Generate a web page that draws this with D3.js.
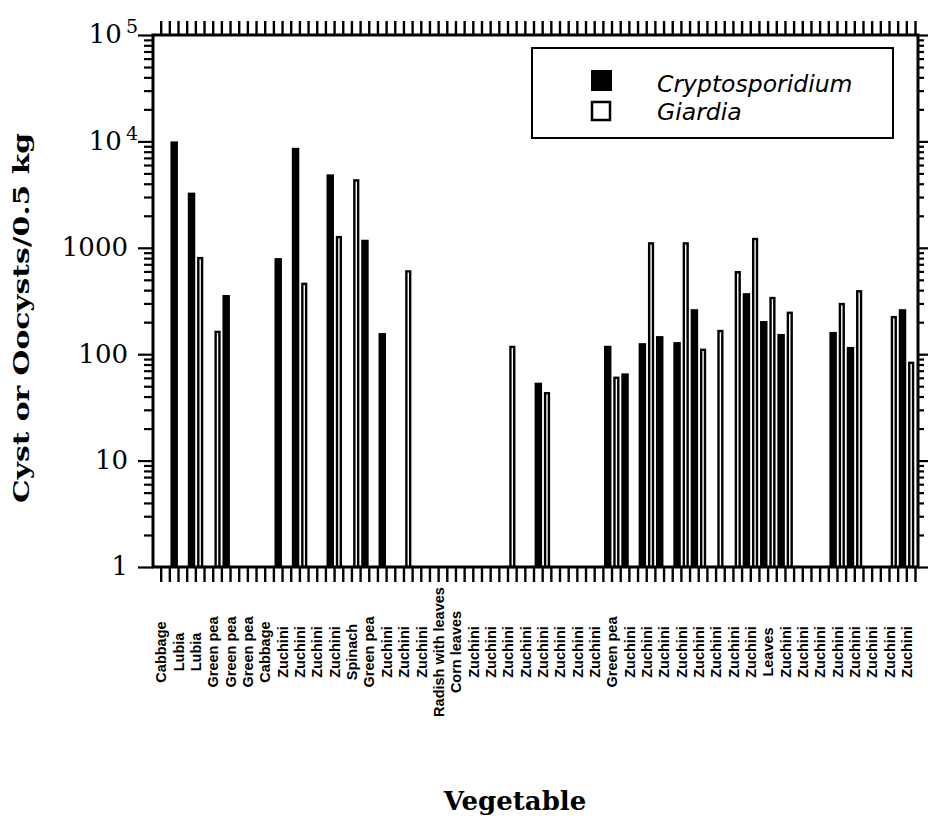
<!DOCTYPE html>
<html>
<head>
<meta charset="utf-8">
<script src="https://cdn.jsdelivr.net/npm/d3@7"></script>
<style>
  body { margin: 0; background: #fff; }
  svg { display: block; }
</style>
</head>
<body>
<div class="canvas"></div>
<script>
// one entry per sample (names repeat, so bars are keyed by index)
const vegetables = [
  'Cabbage', 'Lubia', 'Lubia', 'Green pea', 'Green pea', 'Green pea', 'Cabbage',
  'Zuchini', 'Zuchini', 'Zuchini', 'Zuchini', 'Spinach', 'Green pea',
  'Zuchini', 'Zuchini', 'Zuchini', 'Radish with leaves', 'Corn leaves',
  'Zuchini', 'Zuchini', 'Zuchini', 'Zuchini', 'Zuchini', 'Zuchini', 'Zuchini', 'Zuchini',
  'Green pea',
  'Zuchini', 'Zuchini', 'Zuchini', 'Zuchini', 'Zuchini', 'Zuchini', 'Zuchini', 'Zuchini',
  'Leaves',
  'Zuchini', 'Zuchini', 'Zuchini', 'Zuchini', 'Zuchini', 'Zuchini', 'Zuchini', 'Zuchini'
];

const seriesNames = ['Cryptosporidium', 'Giardia'];

// cysts or oocysts per 0.5 kg, null = nothing detected
const cryptoValues = [
  null, 10000, 3300, null, 360, null, null, 800, 8700, null,
  4900, null, 1190, 158, null, null, null, null, null, null,
  null, null, 54, null, null, null, 120, 66, 127, 148,
  130, 265, null, null, 375, 205, 155, null, null, 162,
  117, null, null, 265
];
const giardiaValues = [
  null, null, 800, 162, null, null, null, null, 458, null,
  1260, 4300, null, null, 600, null, null, null, null, null,
  117, null, 43, null, null, null, 60, null, 1100, null,
  1100, 110, 165, 590, 1210, 337, 245, null, null, 296,
  390, null, 223, 83
];

const majorTicks = [1, 10, 100, 1000, 10000, 100000];

// chart box
const dims = { width: 933, height: 816 };
const plot = { left: 153, right: 918, top: 35, bottom: 567 };

const svg = d3.select('.canvas')
  .append('svg')
  .attr('width', dims.width)
  .attr('height', dims.height);

// scales
const x = d3.scaleBand()
  .domain(d3.range(vegetables.length))
  .range([152.5, 915.5]);

const xs = d3.scaleBand()
  .domain(seriesNames)
  .range([0, x.bandwidth()]);

const y = d3.scaleLog()
  .domain([1, 100000])
  .range([plot.bottom, plot.top]);

const minorTicks = y.ticks().filter(t => !majorTicks.includes(t));

// bars
const bars = [];
vegetables.forEach((v, i) => {
  if (cryptoValues[i] != null) bars.push({ i, key: 'Cryptosporidium', value: cryptoValues[i] });
  if (giardiaValues[i] != null) bars.push({ i, key: 'Giardia', value: giardiaValues[i] });
});

// giardia bars are open (outlined) and a bit narrower
const giardiaWidth = 3.8;

svg.append('g')
  .selectAll('rect')
  .data(bars)
  .enter()
  .append('rect')
  .attr('x', d => d.key === 'Giardia'
    ? x(d.i) + xs(d.key) + (xs.bandwidth() - giardiaWidth) / 2
    : x(d.i) + xs(d.key) + 0.6)
  .attr('width', d => d.key === 'Giardia' ? giardiaWidth : xs.bandwidth() - 1.2)
  .attr('y', d => y(d.value))
  .attr('height', d => y(1) - y(d.value))
  .attr('fill', d => d.key === 'Giardia' ? '#fff' : '#000')
  .attr('stroke', d => d.key === 'Giardia' ? '#000' : 'none')
  .attr('stroke-width', 2.4);

// tick marks along top and bottom, one at every bar slot edge
const edges = x.domain()
  .flatMap(i => [x(i), x(i) + xs.bandwidth()])
  .concat([x.range()[1]])
  .filter(e => e >= plot.left && e <= plot.right + 1);

const tickStyle = sel => sel.attr('stroke', '#000').attr('stroke-width', 2.4);

svg.append('g').selectAll('line')
  .data(edges).enter().append('line')
  .attr('x1', d => d).attr('x2', d => d)
  .attr('y1', plot.bottom).attr('y2', plot.bottom + 15)
  .call(tickStyle);

svg.append('g').selectAll('line')
  .data(edges).enter().append('line')
  .attr('x1', d => d).attr('x2', d => d)
  .attr('y1', plot.top).attr('y2', plot.top - 14)
  .call(tickStyle);

// left axis: minor + major ticks and labels
const cleanAxis = g => {
  g.select('.domain').remove();
  g.selectAll('.tick line').attr('stroke', '#000').attr('stroke-width', 2.2);
};

svg.append('g')
  .attr('transform', `translate(${plot.left},0)`)
  .call(d3.axisLeft(y).tickValues(minorTicks).tickSize(9).tickFormat(''))
  .call(cleanAxis);

const leftMajor = svg.append('g')
  .attr('transform', `translate(${plot.left},0)`)
  .call(d3.axisLeft(y)
    .tickValues(majorTicks)
    .tickSize(15)
    .tickPadding(10)
    .tickFormat(d => d >= 10000 ? '10' : d3.format('d')(d)))
  .call(cleanAxis);

leftMajor.selectAll('.tick text')
  .attr('font-family', '"DejaVu Serif", serif')
  .attr('font-size', 26)
  .attr('fill', '#000')
  .attr('dy', '0.3em');

// powers of ten get a superscript exponent
leftMajor.selectAll('.tick text')
  .filter(d => d >= 10000)
  .attr('x', -15)
  .append('tspan')
  .attr('dx', 4)
  .attr('dy', -10)
  .attr('font-size', 19)
  .text(d => Math.round(Math.log10(d)));

// right axis mirrors the ticks outward
svg.append('g')
  .attr('transform', `translate(${plot.right},0)`)
  .call(d3.axisRight(y).tickValues(minorTicks).tickSize(6).tickFormat(''))
  .call(cleanAxis);

svg.append('g')
  .attr('transform', `translate(${plot.right},0)`)
  .call(d3.axisRight(y).tickValues(majorTicks).tickSize(10).tickFormat(''))
  .call(cleanAxis);

// frame
svg.append('rect')
  .attr('x', plot.left)
  .attr('y', plot.top)
  .attr('width', plot.right - plot.left)
  .attr('height', plot.bottom - plot.top)
  .attr('fill', 'none')
  .attr('stroke', '#000')
  .attr('stroke-width', 3);

// vegetable names, rotated
const xAxis = svg.append('g')
  .attr('transform', `translate(0,${plot.bottom})`)
  .call(d3.axisBottom(x).tickSize(0).tickFormat(i => vegetables[i]));

xAxis.select('.domain').remove();
xAxis.selectAll('.tick text')
  .attr('x', 0)
  .attr('y', 0)
  .attr('dy', '0.36em')
  .attr('transform', 'translate(0,85) rotate(-90)')
  .attr('text-anchor', 'middle')
  .attr('font-family', '"Liberation Sans", Arial, sans-serif')
  .attr('font-weight', 'bold')
  .attr('font-size', 14.5)
  .attr('fill', '#000');

// axis titles
svg.append('text')
  .attr('transform', 'translate(29,318) rotate(-90)')
  .attr('text-anchor', 'middle')
  .attr('font-family', '"DejaVu Serif", serif')
  .attr('font-weight', 'bold')
  .attr('font-size', 23)
  .attr('textLength', 370)
  .attr('lengthAdjust', 'spacingAndGlyphs')
  .text('Cyst or Oocysts/0.5 kg');

svg.append('text')
  .attr('x', 515)
  .attr('y', 810)
  .attr('text-anchor', 'middle')
  .attr('font-family', '"DejaVu Serif", serif')
  .attr('font-weight', 'bold')
  .attr('font-size', 26)
  .text('Vegetable');

// legend
const legend = svg.append('g');

legend.append('rect')
  .attr('x', 532).attr('y', 48)
  .attr('width', 361).attr('height', 90)
  .attr('fill', '#fff')
  .attr('stroke', '#000')
  .attr('stroke-width', 2);

const legendItems = legend.selectAll('g.item')
  .data(seriesNames)
  .enter()
  .append('g')
  .attr('class', 'item')
  .attr('transform', (d, i) => `translate(0,${i * 28})`);

legendItems.append('rect')
  .attr('x', d => d === 'Giardia' ? 592 : 591)
  .attr('y', d => d === 'Giardia' ? 74 : 70)
  .attr('width', d => d === 'Giardia' ? 18 : 21)
  .attr('height', d => d === 'Giardia' ? 18 : 21)
  .attr('fill', d => d === 'Giardia' ? '#fff' : '#000')
  .attr('stroke', '#000')
  .attr('stroke-width', d => d === 'Giardia' ? 2.5 : 0);

legendItems.append('text')
  .attr('x', 657)
  .attr('y', 92)
  .attr('font-family', '"DejaVu Sans", sans-serif')
  .attr('font-style', 'italic')
  .attr('font-size', 23.5)
  .text(d => d);
</script>
</body>
</html>
